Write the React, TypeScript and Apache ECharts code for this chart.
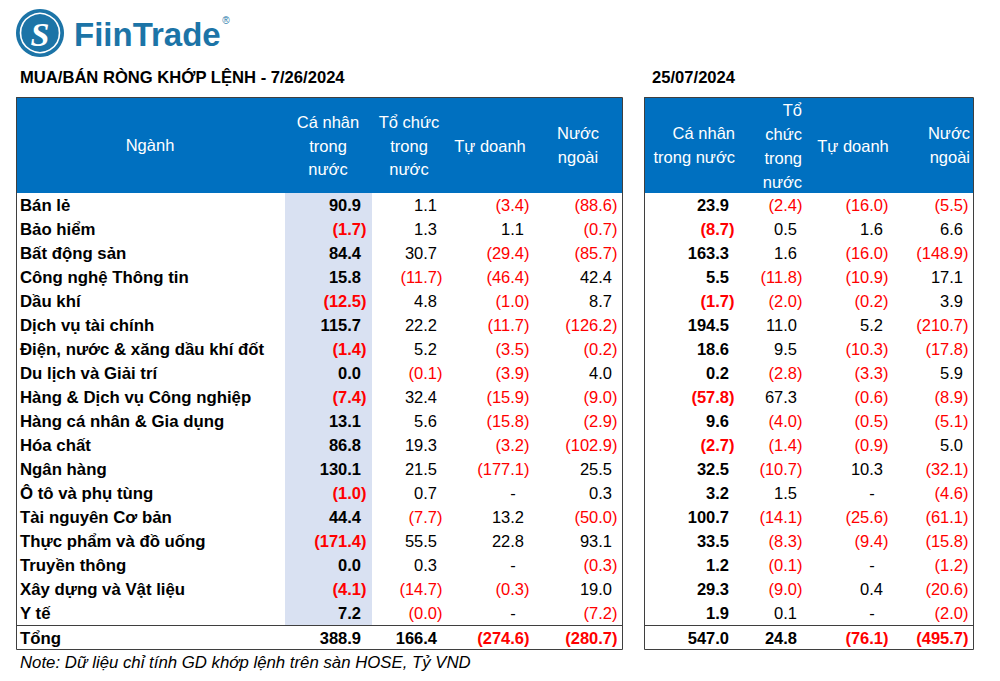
import { useEffect, useRef } from "react";
import * as echarts from "echarts";

const title = "MUA/BÁN RÒNG KHỚP LỆNH - 7/26/2024";
const prevTitle = "25/07/2024";
const note = "Note: Dữ liệu chỉ tính GD khớp lệnh trên sàn HOSE, Tỷ VND";
const totalLabel = "Tổng";

const categories = [
  "Bán lẻ", "Bảo hiểm", "Bất động sản", "Công nghệ Thông tin", "Dầu khí",
  "Dịch vụ tài chính", "Điện, nước & xăng dầu khí đốt", "Du lịch và Giải trí",
  "Hàng & Dịch vụ Công nghiệp", "Hàng cá nhân & Gia dụng", "Hóa chất", "Ngân hàng",
  "Ô tô và phụ tùng", "Tài nguyên Cơ bản", "Thực phẩm và đồ uống", "Truyền thông",
  "Xây dựng và Vật liệu", "Y tế",
];

// 26/07/2024
const caNhan26 = [90.9, -1.7, 84.4, 15.8, -12.5, 115.7, -1.4, 0.0, -7.4, 13.1, 86.8, 130.1, -1.0, 44.4, -171.4, 0.0, -4.1, 7.2];
const toChuc26 = [1.1, 1.3, 30.7, -11.7, 4.8, 22.2, 5.2, -0.1, 32.4, 5.6, 19.3, 21.5, 0.7, -7.7, 55.5, 0.3, -14.7, -0];
const tuDoanh26 = [-3.4, 1.1, -29.4, -46.4, -1.0, -11.7, -3.5, -3.9, -15.9, -15.8, -3.2, -177.1, null, 13.2, 22.8, null, -0.3, null];
const nuocNgoai26 = [-88.6, -0.7, -85.7, 42.4, 8.7, -126.2, -0.2, 4.0, -9.0, -2.9, -102.9, 25.5, 0.3, -50.0, 93.1, -0.3, 19.0, -7.2];
const totals26 = [388.9, 166.4, -274.6, -280.7];

// 25/07/2024
const caNhan25 = [23.9, -8.7, 163.3, 5.5, -1.7, 194.5, 18.6, 0.2, -57.8, 9.6, -2.7, 32.5, 3.2, 100.7, 33.5, 1.2, 29.3, 1.9];
const toChuc25 = [-2.4, 0.5, 1.6, -11.8, -2.0, 11.0, 9.5, -2.8, 67.3, -4.0, -1.4, -10.7, 1.5, -14.1, -8.3, -0.1, -9.0, 0.1];
const tuDoanh25 = [-16.0, 1.6, -16.0, -10.9, -0.2, 5.2, -10.3, -3.3, -0.6, -0.5, -0.9, 10.3, null, -25.6, -9.4, null, 0.4, null];
const nuocNgoai25 = [-5.5, 6.6, -148.9, 17.1, 3.9, -210.7, -17.8, 5.9, -8.9, -5.1, 5.0, -32.1, -4.6, -61.1, -15.8, -1.2, -20.6, -2.0];
const totals25 = [547.0, 24.8, -76.1, -495.7];

const headerNganh = "Ngành";
const headersLeft = [["Cá nhân", "trong", "nước"], ["Tổ chức", "trong", "nước"], ["Tự doanh"], ["Nước", "ngoài"]];
const headersRight = [["Cá nhân", "trong nước"], ["Tổ", "chức", "trong", "nước"], ["Tự doanh"], ["Nước", "ngoài"]];

const FF = "'Liberation Sans', Arial, sans-serif";
const FS = 16.5;
const FS_CAT = 16.8;
const BLUE = "#0070c0";
const RED = "#ff0000";
const BORDER = "#3f3f3f";

function isNeg(v: number) {
  return v < 0 || Object.is(v, -0);
}

function txt(text: string, x: number, y: number, font: string, fill: string, align: string) {
  return {
    type: "text",
    x,
    y,
    silent: true,
    style: {
      text,
      font,
      fill,
      textAlign: align,
      textVerticalAlign: "middle",
      align,
      verticalAlign: "middle",
    },
  };
}

export default function App() {
  const ref = useRef<HTMLDivElement>(null);
  useEffect(() => {
    document.body.style.margin = "0";
    const chart = echarts.init(ref.current!, null, { renderer: "svg" });
    const el: any[] = [];

    const rowTop = 193;
    const rowH = 24;
    const n = categories.length;
    const totalTop = rowTop + n * rowH;
    const tableTop = 97;
    const tableBottom = totalTop + rowH;
    const headerBottom = rowTop - 1;

    // Logo
    el.push({ type: "circle", shape: { cx: 40, cy: 33, r: 24 }, style: { fill: "#1c74a7" }, silent: true });
    el.push({ type: "circle", shape: { cx: 40, cy: 33, r: 19.5 }, style: { fill: "none", stroke: "#ffffff", lineWidth: 1.6 }, silent: true });
    el.push(txt("S", 40, 34, "bold italic 34px 'Liberation Serif', serif", "#ffffff", "center"));
    el.push(txt("FiinTrade", 74, 34, `bold 33px ${FF}`, "#1c74a7", "left"));
    el.push(txt("®", 226, 20, `10px ${FF}`, "#1c74a7", "center"));

    // Titles
    el.push(txt(title, 20, 77, `bold 16.6px ${FF}`, "#000", "left"));
    el.push(txt(prevTitle, 652, 77, `bold 16.6px ${FF}`, "#000", "left"));

    const tables = [
      { x0: 16, x1: 622, cols: [361, 437, 524, 612], data: [caNhan26, toChuc26, tuDoanh26, nuocNgoai26], totals: totals26 },
      { x0: 644, x1: 973, cols: [729, 797, 883, 963], data: [caNhan25, toChuc25, tuDoanh25, nuocNgoai25], totals: totals25 },
    ];

    tables.forEach((t, ti) => {
      el.push({ type: "rect", shape: { x: t.x0, y: tableTop, width: t.x1 - t.x0, height: headerBottom - tableTop + 1 }, style: { fill: BLUE }, silent: true });
      if (ti === 0) {
        el.push({ type: "rect", shape: { x: 285, y: rowTop, width: 87, height: totalTop - rowTop }, style: { fill: "#d9e1f2" }, silent: true });
      }
      el.push({ type: "rect", shape: { x: t.x0 + 0.5, y: tableTop + 0.5, width: t.x1 - t.x0, height: tableBottom - tableTop }, style: { fill: "none", stroke: BORDER, lineWidth: 1 }, silent: true });
      el.push({ type: "line", shape: { x1: t.x0, y1: totalTop + 0.5, x2: t.x1 + 1, y2: totalTop + 0.5 }, style: { stroke: BORDER, lineWidth: 1 }, silent: true });

      for (let i = 0; i < n; i++) {
        const cy = rowTop + i * rowH + 12;
        if (ti === 0) el.push(txt(categories[i], 20, cy, `bold ${FS_CAT}px ${FF}`, "#000", "left"));
        t.data.forEach((arr, ci) => {
          const v = arr[i];
          const bold = ci === 0;
          const font = `${bold ? "bold " : ""}${FS}px ${FF}`;
          const px = t.cols[ci];
          if (v === null || v === undefined) {
            el.push(txt("-", px - 11, cy, font, "#000", "center"));
          } else if (isNeg(v)) {
            el.push(txt(`(${Math.abs(v).toFixed(1)})`, px + 5.5, cy, font, RED, "right"));
          } else {
            el.push(txt(v.toFixed(1), px, cy, font, "#000", "right"));
          }
        });
      }
      const ty = totalTop + 13;
      if (ti === 0) el.push(txt(totalLabel, 20, ty, `bold ${FS_CAT}px ${FF}`, "#000", "left"));
      t.totals.forEach((v, ci) => {
        const font = `bold ${FS}px ${FF}`;
        const px = t.cols[ci];
        if (isNeg(v)) el.push(txt(`(${Math.abs(v).toFixed(1)})`, px + 5.5, ty, font, RED, "right"));
        else el.push(txt(v.toFixed(1), px, ty, font, "#000", "right"));
      });
    });

    // Headers
    const hf = `${FS}px ${FF}`;
    el.push(txt(headerNganh, 150, 145, hf, "#fff", "center"));
    const leftX = [328, 409, 490, 578];
    const ys3 = [122, 146, 169];
    headersLeft.forEach((lines, ci) => {
      const ys = lines.length === 3 ? ys3 : lines.length === 2 ? [133, 157] : [146];
      lines.forEach((l, li) => el.push(txt(l, leftX[ci], ys[li], hf, "#fff", "center")));
    });
    const rightX = [735, 802, 853, 970];
    const rightAlign = ["right", "right", "center", "right"];
    headersRight.forEach((lines, ci) => {
      const ys = lines.length === 4 ? [110, 134, 158, 182] : lines.length === 2 ? [133, 157] : [146];
      lines.forEach((l, li) => el.push(txt(l, rightX[ci], ys[li], hf, "#fff", rightAlign[ci])));
    });

    el.push(txt(note, 20, 662, `italic 16.8px ${FF}`, "#000", "left"));

    chart.setOption({ animation: false, graphic: { elements: el } });
    return () => chart.dispose();
  }, []);
  return <div ref={ref} style={{ width: 1000, height: 681 }} />;
}
